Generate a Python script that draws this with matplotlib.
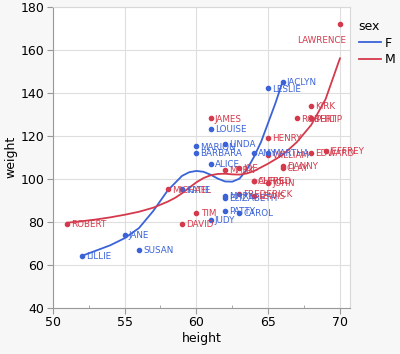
import numpy as np
import matplotlib
matplotlib.use('Agg')
import matplotlib.pyplot as plt
from matplotlib.ticker import MultipleLocator

names = ['KATIE', 'LOUISE', 'JANE', 'JACLYN', 'LILLIE', 'TIM', 'JAMES', 'ROBERT',
         'BARBARA', 'ALICE', 'SUSAN', 'JOHN', 'JOE', 'MICHAEL', 'DAVID', 'JUDY',
         'ELIZABETH', 'LESLIE', 'CAROL', 'PATTY', 'FREDERICK', 'ALFRED', 'HENRY',
         'LEWIS', 'EDWARD', 'CHRIS', 'JEFFREY', 'MARY', 'AMY', 'ROBERT', 'WILLIAM',
         'CLAY', 'MARK', 'DANNY', 'MARTHA', 'MARION', 'PHILIP', 'LINDA', 'KIRK',
         'LAWRENCE']
sex = ['F', 'F', 'F', 'F', 'F', 'M', 'M', 'M', 'F', 'F', 'F', 'M', 'M', 'M', 'M',
       'F', 'F', 'F', 'F', 'F', 'M', 'M', 'M', 'M', 'M', 'M', 'M', 'F', 'F', 'M',
       'M', 'M', 'M', 'M', 'F', 'F', 'M', 'F', 'M', 'M']
height = [59, 61, 55, 66, 52, 60, 61, 51, 60, 61, 56, 65, 63, 58, 59, 61, 62, 65,
          63, 62, 63, 64, 65, 64, 68, 64, 69, 62, 64, 67, 65, 66, 62, 66, 65, 60,
          68, 62, 68, 70]
weight = [95, 123, 74, 145, 64, 84, 128, 79, 112, 107, 67, 98, 105, 95, 79, 81, 91,
          142, 84, 85, 93, 99, 119, 92, 112, 99, 113, 92, 112, 128, 111, 105, 104,
          106, 112, 115, 128, 116, 134, 172]

# smoother curves
f_x = [52, 53, 54, 55, 56, 57, 58, 59, 59.5, 60, 60.5, 61, 61.5, 62, 62.5, 63, 63.5, 64, 64.5, 65, 65.5, 66]
f_y = [64, 66.5, 69, 72.3, 77, 85, 94.5, 101.3, 103, 103.6, 103.2, 101.8, 100, 98.7, 98.6, 100, 104, 110, 117, 126, 135, 145]
m_x = [51, 52, 53, 54, 55, 56, 57, 58, 58.5, 59, 59.5, 60, 60.5, 61, 61.5, 62, 62.5, 63, 63.5, 64, 65, 66, 67, 68, 69, 70]
m_y = [79.5, 80.2, 81, 82, 83.2, 84.6, 86.5, 89.3, 91, 93.2, 95.8, 98.3, 100.3, 101.6, 102.2, 102.3, 102, 101.9, 102.4, 103.5, 107, 111, 117, 125, 137, 156]

colors = {'F': '#3a63d8', 'M': '#d5394c'}

fig = plt.figure(figsize=(4, 3.54), dpi=100)
fig.patch.set_facecolor('#f7f7f7')
ax = fig.add_axes([0.132, 0.131, 0.743, 0.850])
ax.set_facecolor('white')

ax.plot(f_x, f_y, color=colors['F'], lw=1.3, label='F', zorder=3)
ax.plot(m_x, m_y, color=colors['M'], lw=1.3, label='M', zorder=3)

for i in range(len(names)):
    c = colors[sex[i]]
    ax.plot(height[i], weight[i], 'o', color=c, markersize=3, zorder=4)
    if names[i] == 'LAWRENCE':
        ax.annotate(names[i], (height[i], weight[i]), xytext=(-13, -12),
                    textcoords='offset points', ha='center', va='center',
                    color=c, fontsize=6.3, zorder=5)
    else:
        ax.annotate(names[i], (height[i], weight[i]), xytext=(3, -0.5),
                    textcoords='offset points', ha='left', va='center',
                    color=c, fontsize=6.3, zorder=5)

ax.set_xlim(50, 70.7)
ax.set_ylim(40, 180)
ax.xaxis.set_major_locator(MultipleLocator(5))
ax.xaxis.set_minor_locator(MultipleLocator(2.5))
ax.yaxis.set_major_locator(MultipleLocator(20))
ax.grid(True, which='major', color='#dedede', lw=0.8, zorder=0)
ax.tick_params(which='major', length=4, color='#999999', labelsize=9, pad=2)
ax.tick_params(axis='x', which='minor', length=2, direction='in', color='#999999')
for s in ['left', 'bottom']:
    ax.spines[s].set_color('#999999')
for s in ['top', 'right']:
    ax.spines[s].set_color('#d8d8d8')
ax.set_xlabel('height', fontsize=9, labelpad=2)
ax.set_ylabel('weight', fontsize=9, labelpad=2)

leg = ax.legend(title='sex', loc='upper left', bbox_to_anchor=(1.0, 0.985),
                frameon=False, fontsize=9, title_fontsize=9, handlelength=1.8,
                handletextpad=0.3, borderaxespad=0.3, labelspacing=0.3)
leg._legend_box.align = 'left'

plt.savefig('out.png', dpi=100, facecolor=fig.get_facecolor())
